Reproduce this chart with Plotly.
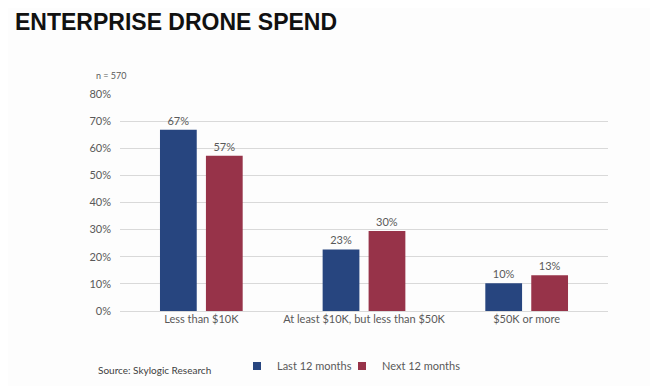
import plotly.graph_objects as go

categories = ["Less than $10K", "At least $10K, but less than $50K", "$50K or more"]
last_12 = [66.8, 22.7, 10.2]
next_12 = [57.2, 29.5, 13.2]
series_names = ["Last 12 months", "Next 12 months"]
y_ticks = [0, 10, 20, 30, 40, 50, 60, 70, 80]
y_tick_labels = [f"{v}%" for v in y_ticks]

colors = ["#27457f", "#973349"]
font_main = "Lato"
gray = "#595959"
OFF = 8  # browser body margin

fig = go.Figure()
for name, vals, c in zip(series_names, [last_12, next_12], colors):
    fig.add_trace(go.Bar(
        x=categories, y=vals, name=name, marker_color=c,
        texttemplate="%{y:.0f}%", textposition="outside",
        textfont=dict(size=11, color=gray, family=font_main),
        cliponaxis=False, showlegend=False,
    ))
# legend entries with small square swatches, one legend each
for name, c, lg in zip(series_names, colors, ["legend", "legend2"]):
    fig.add_trace(go.Scatter(
        x=[None], y=[None], mode="markers", name=name, legend=lg,
        marker=dict(symbol="square", size=8, color=c),
    ))

leg_common = dict(orientation="h", xref="container", yref="container",
                  y=(386 - (366 - OFF)) / 386, xanchor="left", yanchor="middle",
                  font=dict(size=11, color=gray), itemwidth=30,
                  bgcolor="rgba(0,0,0,0)")

fig.update_layout(
    template="none",
    width=658, height=386,
    margin=dict(l=120 - OFF, r=50 + OFF, t=94 - OFF, b=75 + OFF, autoexpand=False),
    paper_bgcolor="#fdfdfd", plot_bgcolor="#fdfdfd",
    barmode="group", bargap=0.435, bargroupgap=0.2,
    font=dict(family=font_main, size=11, color=gray),
    showlegend=True,
    legend=dict(x=229 / 658, **leg_common),
    legend2=dict(x=334 / 658, **leg_common),
    xaxis=dict(showgrid=False, showline=False, ticks="", automargin=False,
               tickfont=dict(size=11, color=gray)),
    yaxis=dict(range=[0, 80], tickvals=y_ticks, ticktext=y_tick_labels,
               showgrid=True, gridcolor="#d9d9d9", gridwidth=1,
               zeroline=True, zerolinecolor="#d9d9d9", zerolinewidth=1,
               showline=False, ticks="", ticklabelstandoff=8, automargin=False,
               tickfont=dict(size=11, color=gray)),
    annotations=[
        dict(text="<b>ENTERPRISE DRONE SPEND</b>", xref="paper", yref="paper",
             x=-107/488, y=1 + (94-22)/217, xanchor="left", yanchor="middle",
             showarrow=False, font=dict(size=23, color="#111111", family="Liberation Sans")),
        dict(text="n = 570", xref="paper", yref="paper",
             x=-26/488, y=1 + (94-76)/217, xanchor="left", yanchor="middle",
             showarrow=False, font=dict(size=9, color=gray, family=font_main)),
        dict(text="Source: Skylogic Research", xref="paper", yref="paper",
             x=-24/488, y=-(370-311)/217, xanchor="left", yanchor="middle",
             showarrow=False, font=dict(size=10, color="#404040", family=font_main)),
    ],
)

fig.write_html("out.html")
